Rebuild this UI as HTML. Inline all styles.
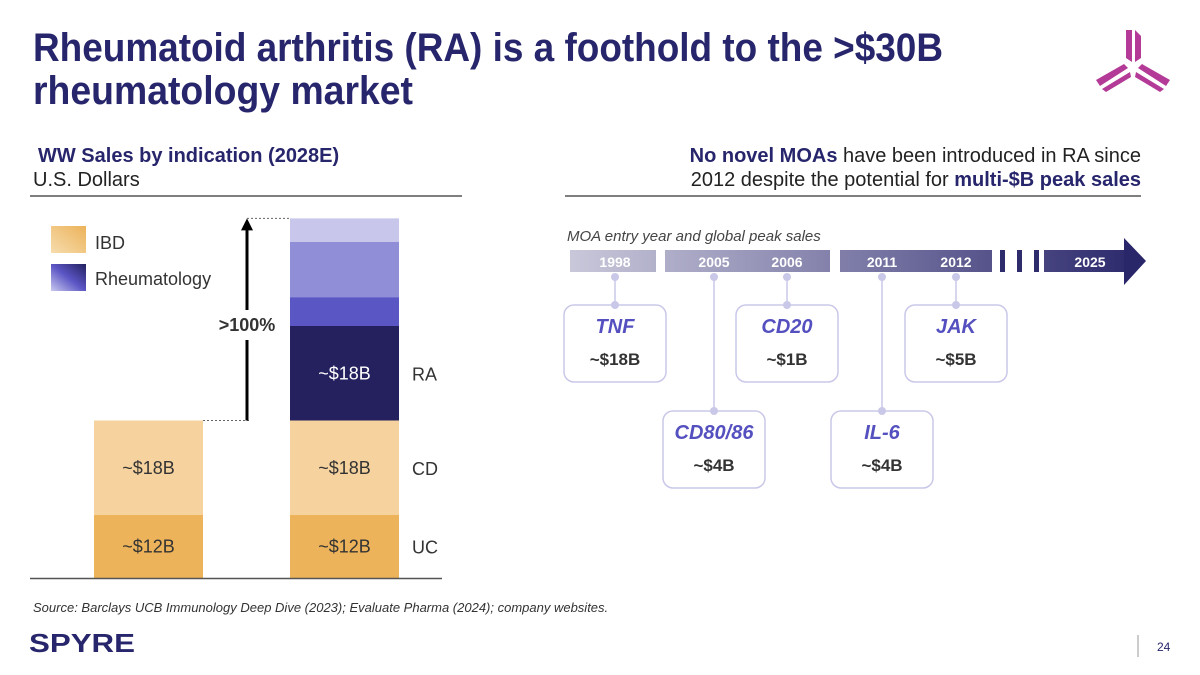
<!DOCTYPE html>
<html><head><meta charset="utf-8"><style>
html,body{margin:0;padding:0;background:#fff;}
svg{display:block;font-family:"Liberation Sans",Arial,sans-serif;}
</style></head><body>
<svg id="s" width="1200" height="675" viewBox="0 0 1200 675" xmlns="http://www.w3.org/2000/svg">
<defs>
<linearGradient id="tlgrad" x1="570" y1="0" x2="1145" y2="0" gradientUnits="userSpaceOnUse">
<stop offset="0" stop-color="#c9c8da"/><stop offset="0.5" stop-color="#7c7aa6"/><stop offset="1" stop-color="#29266a"/></linearGradient>
<linearGradient id="ibd" x1="0" y1="1" x2="1" y2="0"><stop offset="0" stop-color="#f6dcae"/><stop offset="1" stop-color="#ecb35a"/></linearGradient>
<linearGradient id="rh" x1="0" y1="1" x2="1" y2="0"><stop offset="0" stop-color="#c9c8ef"/><stop offset="0.5" stop-color="#5a55c4"/><stop offset="1" stop-color="#24215f"/></linearGradient>
</defs>
<text x="33" y="61" font-size="40" font-weight="bold" fill="#27256b" textLength="910" lengthAdjust="spacingAndGlyphs">Rheumatoid arthritis (RA) is a foothold to the &gt;$30B</text>
<text x="33" y="104" font-size="40" font-weight="bold" fill="#27256b" textLength="380" lengthAdjust="spacingAndGlyphs">rheumatology market</text>
<g fill="#b33a96">
<polygon points="1126,30 1132,30 1132,62 1126,58"/><polygon points="1135,30 1141,36 1141,58 1135,62"/>
<polygon points="1096,80 1124,64 1128,68 1100,86"/><polygon points="1102,89 1130,72 1131,77 1106,92"/>
<polygon points="1170,80 1142,64 1138,68 1166,86"/><polygon points="1164,89 1136,72 1135,77 1160,92"/>
</g>
<text x="38" y="162" font-size="20" font-weight="bold" fill="#27256b">WW Sales by indication (2028E)</text>
<text x="33" y="186" font-size="20" fill="#222">U.S. Dollars</text>
<line x1="30" y1="196" x2="462" y2="196" stroke="#555" stroke-width="1.5"/>
<text x="1141" y="162" font-size="20" text-anchor="end" fill="#222"><tspan font-weight="bold" fill="#27256b">No novel MOAs</tspan> have been introduced in RA since</text>
<text x="1141" y="186" font-size="20" text-anchor="end" fill="#222">2012 despite the potential for <tspan font-weight="bold" fill="#27256b">multi-$B peak sales</tspan></text>
<line x1="565" y1="196" x2="1141" y2="196" stroke="#555" stroke-width="1.5"/>
<rect x="51" y="226" width="35" height="27" fill="url(#ibd)"/>
<text x="95" y="249" font-size="18" fill="#333">IBD</text>
<rect x="51" y="264" width="35" height="27" fill="url(#rh)"/>
<text x="95" y="285" font-size="18" fill="#333">Rheumatology</text>
<g id="chart"></g>
<line id="xaxis" x1="30" y1="578.5" x2="442" y2="578.5" stroke="#555" stroke-width="1.5"/>
<text x="567" y="241" font-size="15" font-style="italic" fill="#444">MOA entry year and global peak sales</text>
<g id="timeline"></g>
<text x="33" y="612" font-size="13" font-style="italic" fill="#333">Source: Barclays UCB Immunology Deep Dive (2023); Evaluate Pharma (2024); company websites.</text>
<text x="29" y="652" font-size="26" font-weight="bold" fill="#27256b" textLength="106" lengthAdjust="spacingAndGlyphs">SPYRE</text>
<line x1="1138" y1="635" x2="1138" y2="657" stroke="#999"/>
<text x="1157" y="651" font-size="12" fill="#27256b">24</text>
</svg>
<script>
const NS='http://www.w3.org/2000/svg';
const bars=['IBD','Total'];
const segNames=['UC','CD','RA','Other1','Other2','Other3'];
const ibdValues=[12,18];
const totalValues=[12,18,18,5.5,10.5,4.5];
const segLabels=['~$12B','~$18B','~$18B','','',''];
const segColors=['#ecb35a','#f5d29e','#25215f','#5a57c4','#908ed6','#c8c7eb'];
const years=['1998','2005','2006','2011','2012','2025'];
const moas=['TNF','CD80/86','CD20','IL-6','JAK'];
const moaYears=['1998','2005','2006','2011','2012'];
const moaSales=['~$18B','~$4B','~$1B','~$4B','~$5B'];
const base=578, k=5.25;
const y=v=>base-v*k;
const barX={IBD:94,Total:290}, bw=109;
function mk(t,a,p){const e=document.createElementNS(NS,t);for(const n in a)e.setAttribute(n,a[n]);(p||document.getElementById('chart')).appendChild(e);return e;}
function stack(vals,bx,key,sideLabels){
  let acc=0;
  vals.forEach((v,i)=>{
    const r=mk('rect',{x:bx,y:y(acc+v),width:bw,height:v*k,fill:segColors[i]});
    
    
    if(segLabels[i]){
      const t=mk('text',{x:bx+bw/2,y:y(acc+v/2)+6,'font-size':18,'text-anchor':'middle',fill:i==2?'#fff':'#333'});
      t.textContent=segLabels[i];
      
      
      if(sideLabels){const s=mk('text',{x:bx+bw+13,y:y(acc+v/2)+7,'font-size':18,fill:'#333'});s.textContent=segNames[i];
        
        }
    }
    acc+=v;
  });
  return acc;
}
const ibdTop=stack(ibdValues,barX.IBD,'ibd',false);
const totTop=stack(totalValues,barX.Total,'total',true);
const d1=mk('line',{x1:203,y1:y(ibdTop),x2:250,y2:y(ibdTop),stroke:'#666','stroke-dasharray':'2,2'});

const d2=mk('line',{x1:247,y1:y(totTop),x2:290,y2:y(totTop),stroke:'#666','stroke-dasharray':'2,2'});

const a1=mk('line',{x1:247,y1:y(ibdTop),x2:247,y2:y(totTop)+10,stroke:'#000','stroke-width':3});

const ah=mk('polygon',{points:`241,${y(totTop)+12} 253,${y(totTop)+12} 247,${y(totTop)}`,fill:'#000'});

const gb=mk('rect',{x:215,y:310,width:64,height:30,fill:'#fff'});

const gt=mk('text',{x:247,y:331,'font-size':18,'font-weight':'bold','text-anchor':'middle',fill:'#333'});
gt.textContent='>100%';

// timeline
const tlg=document.getElementById('timeline');
const yearX={'1998':615,'2005':714,'2006':787,'2011':882,'2012':956,'2025':1090};
[[570,656],[665,830],[840,992],[1044,1125]].forEach((s,i)=>{const r=mk('rect',{x:s[0],y:250,width:s[1]-s[0],height:22,fill:'url(#tlgrad)'},tlg);
 });
[1000,1017,1034].forEach((x,i)=>{const r=mk('rect',{x:x,y:250,width:5,height:22,fill:'#2f2c6e'},tlg);
 });
const ar=mk('polygon',{points:'1124,238 1146,261 1124,285',fill:'#29266a'},tlg);

years.forEach(yr=>{const t=mk('text',{x:yearX[yr],y:267,'font-size':14,'font-weight':'bold','text-anchor':'middle',fill:'#fff'},tlg);
 t.textContent=yr;});
moas.forEach((m,i)=>{
  const cx=yearX[moaYears[i]], low=(i%2==1), top=low?411:305;
  const l=mk('line',{x1:cx,y1:277,x2:cx,y2:top,stroke:'#c9c8e8','stroke-width':1.5},tlg);
  
  const b=mk('rect',{x:cx-51,y:top,width:102,height:77,rx:10,fill:'#fff',stroke:'#c9c8e8','stroke-width':1.5},tlg);
  
  [277,top].forEach(cy=>{const c=mk('circle',{cx:cx,cy:cy,r:4,fill:'#c9c8e8'},tlg);
    });
  const t=mk('text',{x:cx,y:top+28,'font-size':20,'font-weight':'bold','font-style':'italic','text-anchor':'middle',fill:'#5550bf'},tlg);
  t.textContent=m;
  const s=mk('text',{x:cx,y:top+60,'font-size':17,'font-weight':'bold','text-anchor':'middle',fill:'#333'},tlg);
  s.textContent=moaSales[i];
});
document.getElementById('s').appendChild(document.getElementById('xaxis'));
</script>
</body></html>
